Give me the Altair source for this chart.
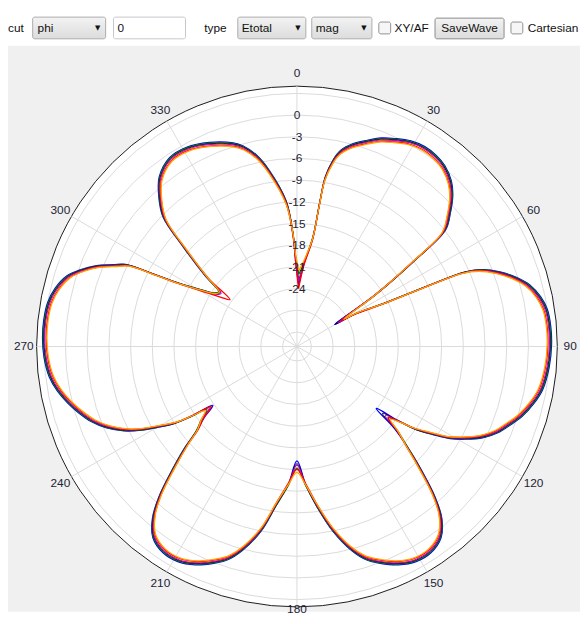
import altair as alt
import pandas as pd

# ---------------- data ----------------
angles = [1.6, 4.8, 8.3, 9.0, 9.5, 11.0, 12.6, 15.5, 18.4, 22.0,
          25.3, 29.0, 32.6, 36.0, 39.3, 43.0, 45.9, 49.0, 51.9, 53.8,
          56.6, 59.7, 60.8, 63.7, 65.1, 66.1, 67.5, 69.8, 72.5, 75.2,
          78.5, 81.6, 85.5, 89.6, 94.5, 99.9, 103.5, 107.2, 110.0, 113.1,
          116.0, 118.8, 121.0, 122.9, 124.8, 126.3, 128.0, 130.0, 132.3, 134.5,
          137.5, 139.9, 143.0, 147.0, 151.0, 155.0, 159.0, 162.0, 165.0, 169.0,
          173.0, 176.5, 180.0, 183.5, 187.5, 191.0, 195.0, 198.0, 201.0, 205.0,
          209.0, 213.0, 217.0, 220.0, 222.5, 225.5, 228.0, 230.0, 232.5, 235.0,
          236.5, 238.0, 240.0, 242.0, 244.0, 247.0, 250.0, 253.0, 256.0, 259.5,
          263.0, 267.5, 272.0, 276.0, 280.0, 283.5, 287.0, 289.5, 292.0, 294.0,
          295.6, 296.8, 298.0, 301.0, 303.0, 305.0, 307.6, 311.3, 314.1, 317.2,
          320.9, 326.0, 331.0, 336.8, 342.6, 345.0, 348.0, 351.0, 355.7, 358.0,
          359.3, 361.6]

blue = [-23.5, -20.6, -16.8, -11.7, -8.2, -5.7, -4.2, -2.9, -2.0, -0.9,
        -0.2, 0.5, 0.8, 0.7, 0.3, -0.7, -2.0, -3.9, -5.9, -11.7,
        -19.2, -26.0, -23.0, -18.3, -12.3, -6.5, -4.2, -2.1, -0.2, 1.3,
        2.4, 3.0, 3.2, 3.2, 3.0, 2.5, 1.7, 0.6, -0.5, -1.7,
        -3.3, -5.4, -7.3, -9.6, -11.8, -14.8, -18.1, -14.5, -11.3, -8.2,
        -3.7, -0.9, 1.1, 2.0, 2.0, 1.3, 0.1, -1.0, -2.8, -6.0,
        -9.8, -13.0, -16.2, -13.0, -9.8, -6.0, -2.8, -1.0, 0.1, 1.3,
        2.0, 2.0, 1.1, -0.9, -3.7, -8.0, -11.2, -14.0, -15.8, -17.8,
        -14.6, -11.8, -9.6, -7.3, -5.4, -3.3, -1.7, -0.5, 0.6, 1.7,
        2.5, 3.0, 3.2, 3.2, 3.0, 2.4, 1.3, -0.2, -2.1, -4.2,
        -5.7, -9.8, -13.2, -17.0, -18.5, -19.0, -16.0, -11.0, -6.2, -3.9,
        -1.8, -0.5, -0.5, -1.3, -2.5, -3.3, -4.9, -7.3, -11.8, -16.6,
        -20.6, -23.5]

green = [-22.0, -20.3, -16.7, -11.8, -8.3, -5.8, -4.3, -3.0, -2.1, -1.0,
         -0.3, 0.4, 0.7, 0.6, 0.2, -0.8, -2.1, -4.0, -6.0, -11.8,
         -18.8, -25.0, -22.5, -18.3, -12.4, -6.6, -4.3, -2.2, -0.3, 1.2,
         2.3, 2.9, 3.1, 3.1, 2.9, 2.4, 1.6, 0.5, -0.6, -1.8,
         -3.4, -5.5, -7.4, -9.7, -11.8, -14.4, -16.0, -13.8, -11.3, -8.3,
         -3.8, -1.0, 1.0, 1.9, 1.9, 1.2, 0.0, -1.1, -2.9, -6.1,
         -9.8, -12.8, -15.2, -12.8, -9.8, -6.1, -2.9, -1.1, 0.0, 1.2,
         1.9, 1.9, 1.0, -1.0, -3.8, -8.1, -11.3, -13.8, -15.3, -16.8,
         -14.5, -11.8, -9.7, -7.4, -5.5, -3.4, -1.8, -0.6, 0.5, 1.6,
         2.4, 2.9, 3.1, 3.1, 2.9, 2.3, 1.2, -0.3, -2.2, -4.3,
         -5.8, -9.8, -13.1, -17.0, -18.4, -18.8, -16.1, -11.1, -6.3, -4.0,
         -1.9, -0.6, -0.6, -1.4, -2.6, -3.4, -5.0, -7.4, -11.8, -16.3,
         -19.8, -22.0]

black = [-22.8, -20.4, -16.8, -11.9, -8.4, -5.9, -4.4, -3.1, -2.2, -1.1,
         -0.4, 0.3, 0.6, 0.5, 0.1, -0.9, -2.2, -4.1, -6.1, -11.9,
         -18.9, -25.8, -22.6, -18.4, -12.5, -6.7, -4.4, -2.3, -0.4, 1.1,
         2.2, 2.8, 3.0, 3.0, 2.8, 2.3, 1.5, 0.4, -0.7, -1.9,
         -3.5, -5.6, -7.5, -9.8, -11.9, -14.7, -17.0, -14.2, -11.4, -8.4,
         -3.9, -1.1, 0.9, 1.8, 1.8, 1.1, -0.1, -1.2, -3.0, -6.2,
         -9.9, -12.9, -15.8, -12.9, -9.9, -6.2, -3.0, -1.2, -0.1, 1.1,
         1.8, 1.8, 0.9, -1.1, -3.9, -8.2, -11.4, -13.9, -15.4, -17.5,
         -14.6, -11.9, -9.8, -7.5, -5.6, -3.5, -1.9, -0.7, 0.4, 1.5,
         2.3, 2.8, 3.0, 3.0, 2.8, 2.2, 1.1, -0.4, -2.3, -4.4,
         -5.9, -9.9, -13.2, -17.1, -18.6, -19.0, -16.2, -11.2, -6.4, -4.1,
         -2.0, -0.7, -0.7, -1.5, -2.7, -3.5, -5.1, -7.5, -11.9, -16.4,
         -20.0, -22.8]

magenta = [-23.0, -20.5, -16.9, -12.0, -8.5, -6.0, -4.5, -3.2, -2.3, -1.2,
           -0.5, 0.2, 0.5, 0.4, 0.0, -1.0, -2.3, -4.2, -6.2, -12.0,
           -19.0, -25.5, -22.7, -18.5, -12.6, -6.8, -4.5, -2.4, -0.5, 1.0,
           2.1, 2.7, 2.9, 2.9, 2.7, 2.2, 1.4, 0.3, -0.8, -2.0,
           -3.6, -5.7, -7.6, -9.9, -12.0, -14.6, -16.5, -14.0, -11.5, -8.5,
           -4.0, -1.2, 0.8, 1.7, 1.7, 1.0, -0.2, -1.3, -3.1, -6.3,
           -10.0, -13.0, -15.6, -13.0, -10.0, -6.3, -3.1, -1.3, -0.2, 1.0,
           1.7, 1.7, 0.8, -1.2, -4.0, -8.3, -11.5, -14.0, -15.5, -17.2,
           -14.7, -12.0, -9.9, -7.6, -5.7, -3.6, -2.0, -0.8, 0.3, 1.4,
           2.2, 2.7, 2.9, 2.9, 2.7, 2.1, 1.0, -0.5, -2.4, -4.5,
           -6.0, -10.0, -13.3, -17.3, -18.8, -19.2, -16.3, -11.3, -6.5, -4.2,
           -2.1, -0.8, -0.8, -1.6, -2.8, -3.6, -5.2, -7.6, -12.0, -16.5,
           -20.2, -23.0]

red = [-24.0, -20.8, -17.1, -12.2, -8.7, -6.2, -4.7, -3.4, -2.5, -1.4,
       -0.7, 0.0, 0.3, 0.2, -0.2, -1.2, -2.5, -4.4, -6.4, -12.2,
       -19.2, -25.0, -22.9, -18.7, -12.8, -7.0, -4.7, -2.6, -0.7, 0.8,
       1.9, 2.5, 2.7, 2.7, 2.5, 2.0, 1.2, 0.1, -1.0, -2.2,
       -3.8, -5.9, -7.8, -10.1, -12.2, -14.6, -16.0, -13.9, -11.6, -8.7,
       -4.2, -1.4, 0.6, 1.5, 1.5, 0.8, -0.4, -1.5, -3.3, -6.5,
       -10.2, -13.1, -15.0, -13.1, -10.2, -6.5, -3.3, -1.5, -0.4, 0.8,
       1.5, 1.5, 0.6, -1.4, -4.2, -8.5, -11.7, -14.2, -15.7, -17.5,
       -14.9, -12.2, -10.1, -7.8, -5.9, -3.8, -2.2, -1.0, 0.1, 1.2,
       2.0, 2.5, 2.7, 2.7, 2.5, 1.9, 0.8, -0.7, -2.6, -4.7,
       -6.2, -10.2, -13.5, -17.7, -19.5, -20.7, -16.6, -11.5, -6.7, -4.4,
       -2.3, -1.0, -1.0, -1.8, -3.0, -3.8, -5.4, -7.8, -12.2, -16.8,
       -20.8, -24.0]

orange = [-21.5, -20.0, -16.8, -12.3, -8.8, -6.3, -4.8, -3.5, -2.6, -1.5,
          -0.8, -0.1, 0.2, 0.1, -0.3, -1.3, -2.6, -4.5, -6.5, -12.3,
          -19.0, -24.5, -22.3, -18.6, -12.9, -7.1, -4.8, -2.7, -0.8, 0.7,
          1.8, 2.4, 2.6, 2.6, 2.4, 1.9, 1.1, 0.0, -1.1, -2.3,
          -3.9, -6.0, -7.9, -10.2, -12.2, -14.3, -15.6, -13.7, -11.6, -8.8,
          -4.3, -1.5, 0.5, 1.4, 1.4, 0.7, -0.5, -1.6, -3.4, -6.6,
          -10.2, -12.9, -14.6, -12.9, -10.2, -6.6, -3.4, -1.6, -0.5, 0.7,
          1.4, 1.4, 0.5, -1.5, -4.3, -8.6, -11.7, -14.0, -15.3, -16.5,
          -14.6, -12.2, -10.2, -7.9, -6.0, -3.9, -2.3, -1.1, 0.0, 1.1,
          1.9, 2.4, 2.6, 2.6, 2.4, 1.8, 0.7, -0.8, -2.7, -4.8,
          -6.3, -10.2, -13.5, -17.2, -18.6, -18.9, -16.4, -11.6, -6.8, -4.5,
          -2.4, -1.1, -1.1, -1.9, -3.1, -3.9, -5.5, -7.9, -12.3, -16.4,
          -19.5, -21.5]

series_order = ["blue", "green", "black", "magenta", "red", "orange"]
series_values = {"blue": blue, "green": green, "black": black, "magenta": magenta,
                 "red": red, "orange": orange}
series_colors = {"blue": "#0000ff", "green": "#008000", "black": "#000000",
                 "magenta": "#c000c0", "red": "#ff0000", "orange": "#ffa500"}
series_widths = {"blue": 1.3, "green": 1.3, "black": 0.9, "magenta": 1.1,
                 "red": 1.3, "orange": 1.3}

grid_levels = [-30, -27, -24, -21, -18, -15, -12, -9, -6, -3, 0, 3]
radial_labels = ["0", "-3", "-6", "-9", "-12", "-15", "-18", "-21", "-24"]
radial_label_values = [0, -3, -6, -9, -12, -15, -18, -21, -24]
angle_ticks = [0, 30, 60, 90, 120, 150, 180, 210, 240, 270, 300, 330]

R_MIN = -32.0   # value at the centre
R_MAX = 4.0     # value at the outer ring

# ---------------- layout ----------------
W, H = 580, 608
CX, CY = 293, 339
RPX = 264
SPAN = R_MAX - R_MIN
PX = RPX / SPAN
LABEL_R = 277 / PX

xs = alt.Scale(domain=[-CX / PX, (W - CX) / PX], nice=False, zero=False)
ys = alt.Scale(domain=[-(H - CY) / PX, CY / PX], nice=False, zero=False)

FONT = "Liberation Sans"
one = pd.DataFrame({"d": [0]})
layers = []

# grey panel
layers.append(alt.Chart(one).mark_rect(color="#f0f0f0").encode(
    x=alt.value(0), x2=alt.value(W), y=alt.value(34), y2=alt.value(H)))

# white disc with dark rim
layers.append(alt.Chart(pd.DataFrame({"lvl": [R_MAX]})).transform_calculate(
    cx="0", cy="0", rpx=f"(datum.lvl - ({R_MIN})) * {PX}"
).mark_arc(theta=0, theta2=6.2832, fill="white", stroke="#1a1a1a", strokeWidth=1).encode(
    x=alt.X("cx:Q", scale=xs, axis=None), y=alt.Y("cy:Q", scale=ys, axis=None),
    radius=alt.Radius("rpx:Q", scale=None, stack=None)))

# grid circles
layers.append(alt.Chart(pd.DataFrame({"lvl": grid_levels})).transform_calculate(
    cx="0", cy="0", rpx=f"(datum.lvl - ({R_MIN})) * {PX}"
).mark_arc(theta=0, theta2=6.2832, fill="transparent", stroke="#dadada", strokeWidth=1).encode(
    x=alt.X("cx:Q", scale=xs, axis=None), y=alt.Y("cy:Q", scale=ys, axis=None),
    radius=alt.Radius("rpx:Q", scale=None, stack=None)))

# spokes
layers.append(alt.Chart(pd.DataFrame({"ang": angle_ticks})).transform_calculate(
    x0="0", y0="0",
    x1=f"{SPAN} * sin(datum.ang * PI / 180)",
    y1=f"{SPAN} * cos(datum.ang * PI / 180)"
).mark_rule(color="#dadada", strokeWidth=1).encode(
    x=alt.X("x0:Q", scale=xs, axis=None), y=alt.Y("y0:Q", scale=ys, axis=None),
    x2="x1:Q", y2="y1:Q"))

# pattern curves
for name in series_order:
    df = pd.DataFrame({"i": list(range(len(angles))), "angle": angles, "db": series_values[name]})
    layers.append(alt.Chart(df).transform_calculate(
        rr=f"max(datum.db - ({R_MIN}), 0)",
        px="datum.rr * sin(datum.angle * PI / 180)",
        py="datum.rr * cos(datum.angle * PI / 180)"
    ).mark_line(color=series_colors[name], strokeWidth=series_widths[name],
                interpolate="catmull-rom").encode(
        x=alt.X("px:Q", scale=xs, axis=None), y=alt.Y("py:Q", scale=ys, axis=None),
        order="i:Q"))

# radial labels
layers.append(alt.Chart(pd.DataFrame({"lvl": radial_label_values, "t": radial_labels})).transform_calculate(
    lx="0", ly=f"datum.lvl - ({R_MIN})"
).mark_text(font=FONT, fontSize=12, color="#222233", align="center", baseline="middle").encode(
    x=alt.X("lx:Q", scale=xs, axis=None), y=alt.Y("ly:Q", scale=ys, axis=None), text="t:N"))

# angle labels (the 180 label sits at the very bottom edge, as in the reference)
layers.append(alt.Chart(pd.DataFrame({"ang": angle_ticks, "t": [str(a) for a in angle_ticks]})).transform_calculate(
    lr=f"datum.ang == 180 ? {266 / PX} : {LABEL_R}",
    lx="datum.lr * sin(datum.ang * PI / 180)",
    ly="datum.lr * cos(datum.ang * PI / 180)"
).mark_text(font=FONT, fontSize=12, color="#222233", align="center", baseline="middle").encode(
    x=alt.X("lx:Q", scale=xs, axis=None), y=alt.Y("ly:Q", scale=ys, axis=None), text="t:N"))

# ---------------- toolbar ----------------
grad_dd = alt.LinearGradient(gradient="linear", x1=0, x2=0, y1=0, y2=1,
                             stops=[alt.GradientStop(color="#f3f3f3", offset=0),
                                    alt.GradientStop(color="#dcdcdc", offset=1)])
boxes = [
    (25, 99, 5, 27, grad_dd, "#acacac"),
    (107, 180, 5, 27, "#ffffff", "#c5c7cc"),
    (233, 302, 5, 27, grad_dd, "#acacac"),
    (308, 369, 5, 27, grad_dd, "#acacac"),
    (376, 388, 10, 22, "#f6f6f6", "#8e8f8f"),
    (433, 503, 6, 27, grad_dd, "#8a8a8a"),
    (510, 522, 10, 22, "#f6f6f6", "#8e8f8f"),
]
for x0, x1, y0, y1, fill, stroke in boxes:
    layers.append(alt.Chart(one).mark_rect(fill=fill, stroke=stroke, strokeWidth=1, cornerRadius=2).encode(
        x=alt.value(x0), x2=alt.value(x1), y=alt.value(y0), y2=alt.value(y1)))

texts = [
    ("cut", 0, "left"), ("phi", 30, "left"), ("0", 111, "left"),
    ("type", 199, "left"), ("Etotal", 237, "left"), ("mag", 312, "left"),
    ("XY/AF", 392, "left"), ("SaveWave", 468, "center"), ("Cartesian", 527, "left"),
]
for t, x, al in texts:
    layers.append(alt.Chart(one).mark_text(text=t, font=FONT, fontSize=12, color="#111111",
                                          align=al, baseline="middle").encode(
        x=alt.value(x), y=alt.value(16)))
for x in [91, 294, 361]:
    layers.append(alt.Chart(one).mark_text(text="▼", font="DejaVu Sans", fontSize=7, color="#111111",
                                          align="center", baseline="middle").encode(
        x=alt.value(x), y=alt.value(16)))

chart = alt.layer(*layers).properties(
    width=W, height=H, autosize=alt.AutoSizeParams(type="none"), padding=0, background="white"
).configure_view(stroke=None)

chart.save("out.html", embed_options={"renderer": "svg", "actions": False})
